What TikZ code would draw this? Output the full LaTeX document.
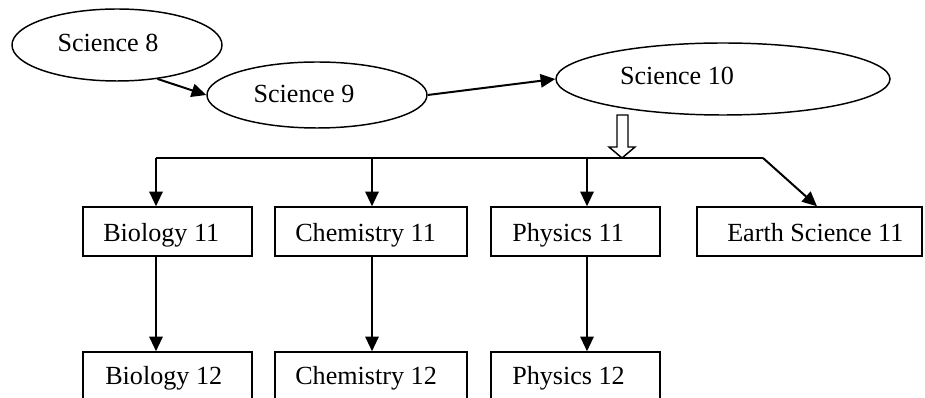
\documentclass[tikz,border=0pt]{standalone}
\usepackage{fontspec}
\setmainfont{Liberation Serif}
\usetikzlibrary{arrows.meta,shapes.geometric}
\begin{document}
\begin{tikzpicture}[x=0.75pt,y=-0.75pt,
  ell/.style={draw,ellipse,line width=1.1pt,inner sep=0pt},
  boxnode/.style={draw,rectangle,line width=1.1pt,inner sep=0pt,minimum height=36.75pt},
  lbl/.style={font=\fontsize{19.6}{23}\selectfont,inner sep=0pt},
  conn/.style={line width=1.5pt,-{Triangle[length=11pt,width=10pt]}},
  bus/.style={line width=1.2pt}]
\useasboundingbox (0,0) rectangle (925,398);
\clip (0,0) rectangle (925,398);
% ellipses
\node[ell,minimum width=157.5pt,minimum height=54pt] (s8) at (117,45) {};
\node[ell,minimum width=165pt,minimum height=49.5pt] (s9) at (317,95) {};
\node[ell,minimum width=250.5pt,minimum height=54pt] (s10) at (723,79) {};
\node[lbl,anchor=base] (t8) at (108,52) {Science 8};
\node[lbl,anchor=base] (t9) at (304,103) {Science 9};
\node[lbl,anchor=base] (t10) at (677,85) {Science 10};
% boxes row 1
\node[boxnode,minimum width=126.75pt] (bio11) at (167.5,231.5) {};
\node[boxnode,minimum width=144pt] (chem11) at (371,231.5) {};
\node[boxnode,minimum width=126.75pt] (phys11) at (575.5,231.5) {};
\node[boxnode,minimum width=168.75pt] (earth11) at (809.5,231.5) {};
% boxes row 2
\node[boxnode,minimum width=126.75pt] (bio12) at (167.5,376.5) {};
\node[boxnode,minimum width=144pt] (chem12) at (371,376.5) {};
\node[boxnode,minimum width=126.75pt] (phys12) at (575.5,376.5) {};
% labels
\node[lbl,anchor=base west] (tb11) at (103,242) {Biology 11};
\node[lbl,anchor=base west] (tc11) at (295,242) {Chemistry 11};
\node[lbl,anchor=base west] (tp11) at (512,242) {Physics 11};
\node[lbl,anchor=base west] (te11) at (727,242) {Earth Science 11};
\node[lbl,anchor=base west] (tb12) at (105,385) {Biology 12};
\node[lbl,anchor=base west] (tc12) at (295,385) {Chemistry 12};
\node[lbl,anchor=base west] (tp12) at (512,385) {Physics 12};
% connectors between ellipses
\draw[conn] (s8.-40) -- (s9.west);
\draw[conn] (s9.east) -- (s10.west);
% hollow block arrow
\coordinate (hub) at (622,158);
\draw[line width=1.1pt,fill=white,line join=miter]
  (617,115) -- (628,115) -- (628,147) -- (635,147) -- (hub) -- (609,147) -- (617,147) -- cycle;
% bus
\coordinate (busL) at (156,158);
\coordinate (busR) at (763,158);
\coordinate (busC) at (372,158);
\coordinate (busP) at (587,158);
\draw[bus] (busL) -- (busR);
\draw[conn] (busL) -- (busL |- bio11.north);
\draw[conn] (busC) -- (busC |- chem11.north);
\draw[conn] (busP) -- (busP |- phys11.north);
\draw[conn] (busR) -- ([xshift=5.6pt]earth11.north);
% row 1 to row 2
\draw[conn] (busL |- bio11.south) -- (busL |- bio12.north);
\draw[conn] (busC |- chem11.south) -- (busC |- chem12.north);
\draw[conn] (busP |- phys11.south) -- (busP |- phys12.north);
\end{tikzpicture}
\end{document}
